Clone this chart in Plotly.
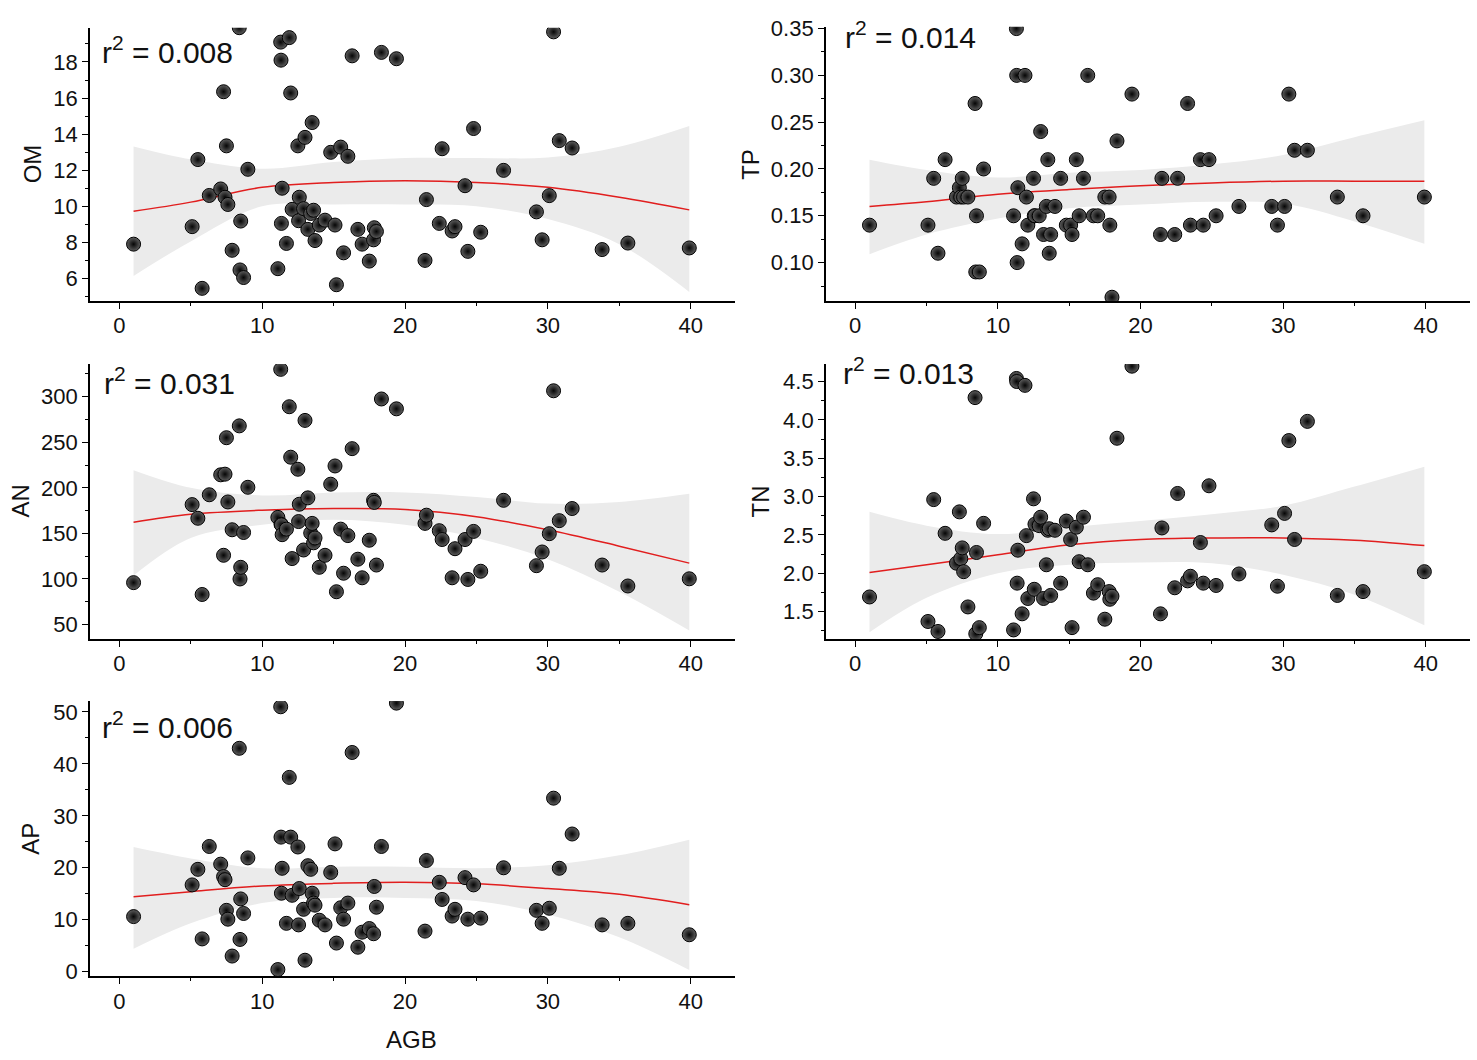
import plotly.graph_objects as go

# AGB values shared by all five panels (one sample per entry)
agb = [1.0, 5.1, 5.5, 5.8, 6.3,
       7.1, 7.3, 7.4, 7.5, 7.6, 7.9,
       8.4, 8.45, 8.5, 8.7, 9.0,
       11.1, 11.3, 11.32, 11.35, 11.4, 11.7, 11.9,
       12.0, 12.1, 12.5, 12.55, 12.6, 12.9,
       13.0, 13.2, 13.4, 13.5, 13.6, 13.7,
       14.0, 14.4, 14.8, 15.1, 15.2, 15.5, 15.7, 16.0, 16.3,
       16.7, 17.0, 17.5, 17.8, 17.85, 18.0, 18.35, 19.4,
       21.4, 21.5, 22.4, 22.6, 23.3, 23.5, 24.2, 24.4, 24.8, 25.3,
       26.9, 29.2, 29.6, 30.1, 30.4, 30.8, 31.7, 33.8, 35.6, 39.9]

om = [7.9, 8.87, 12.59, 5.45, 10.6,
      10.96, 16.35, 10.5, 13.35, 10.1, 7.56,
      19.9, 6.47, 9.18, 6.05, 12.05,
      6.54, 19.1, 18.1, 9.05, 11.0, 7.94, 19.35,
      16.28, 9.83, 13.35, 9.2, 10.5, 9.87,
      13.82, 8.72, 9.6, 14.64, 9.78, 8.1,
      8.96, 9.23, 12.99, 8.96, 5.65, 13.28, 7.42, 12.77, 18.34,
      8.72, 7.9, 6.96, 8.14, 8.81, 8.6, 18.53, 18.18,
      7.0, 10.37, 9.05, 13.19, 8.63, 8.87, 11.14, 7.5, 14.31, 8.56,
      11.99, 9.69, 8.14, 10.59, 19.67, 13.64, 13.23, 7.6, 7.96, 7.69]

tp = [0.14, 0.14, 0.19, 0.11, 0.21,
      0.17, 0.18, 0.17, 0.19, 0.17, 0.17,
      0.27, 0.09, 0.15, 0.09, 0.20,
      0.15, 0.35, 0.30, 0.10, 0.18, 0.12, 0.30,
      0.17, 0.14, 0.19, 0.15, 0.15, 0.15,
      0.24, 0.13, 0.16, 0.21, 0.11, 0.13,
      0.16, 0.19, 0.14, 0.14, 0.13, 0.21, 0.15, 0.19, 0.30,
      0.15, 0.15, 0.17, 0.17, 0.14, 0.063, 0.23, 0.28,
      0.13, 0.19, 0.13, 0.19, 0.27, 0.14, 0.21, 0.14, 0.21, 0.15,
      0.16, 0.16, 0.14, 0.16, 0.28, 0.22, 0.22, 0.17, 0.15, 0.17]

an = [96, 181.6, 166.6, 83, 192.4,
      214.3, 126, 215, 255, 184.5, 154,
      268, 100, 112.8, 151, 200.6,
      167.6, 330, 160, 159.4, 148.6, 154.7, 289,
      233.6, 122.4, 220.4, 163, 182, 131.8,
      274, 189, 150.4, 161, 139.7, 145,
      112.8, 126, 204, 224, 86, 154.7, 106.3, 147.6, 243,
      121.7, 101.3, 142.5, 186.3, 184, 115.3, 297.5, 286.7,
      161, 170, 153, 143.3, 101.3, 133.2, 143.3, 99.5, 152.2, 108.5,
      186.3, 114.6, 129.6, 149.7, 306.5, 164, 177.3, 115.3, 92.3, 100.2]

tn = [1.69, 1.37, 2.96, 1.24, 2.52,
      2.13, 2.80, 2.19, 2.33, 2.02, 1.56,
      4.29, 1.21, 2.27, 1.29, 2.65,
      1.26, 4.54, 4.50, 1.87, 2.30, 1.47, 4.45,
      2.49, 1.67, 2.97, 1.79, 2.64, 2.62,
      2.73, 1.67, 2.11, 2.56, 2.58, 1.71,
      2.56, 1.87, 2.68, 2.44, 1.29, 2.60, 2.15, 2.73, 2.11,
      1.74, 1.85, 1.40, 1.76, 1.66, 1.70, 3.76, 4.70,
      1.47, 2.59, 1.81, 3.04, 1.90, 1.96, 2.40, 1.87, 3.14, 1.84,
      1.99, 2.63, 1.83, 2.78, 3.73, 2.44, 3.98, 1.71, 1.76, 2.02]

ap = [10.6, 16.7, 19.7, 6.3, 24.1,
      20.7, 18.3, 17.7, 11.8, 10.1, 3.0,
      43.0, 6.2, 14.0, 11.2, 21.9,
      0.4, 51.0, 25.9, 15.1, 19.9, 9.3, 37.4,
      25.9, 14.7, 24.0, 9.0, 16.0, 12.0,
      2.2, 20.4, 19.7, 15.1, 13.2, 12.8,
      9.9, 9.0, 19.1, 24.6, 5.5, 12.3, 10.1, 13.2, 42.2,
      4.7, 7.6, 8.3, 7.3, 16.4, 12.4, 24.1, 51.7,
      7.8, 21.4, 17.2, 13.9, 10.7, 12.0, 18.1, 10.1, 16.7, 10.3,
      20.0, 11.8, 9.3, 12.2, 33.4, 19.9, 26.5, 9.0, 9.3, 7.1]

# quadratic fit and its confidence band
fit_x = [1.0, 5, 10, 15, 20, 25, 30, 35, 39.9]

om_fit = [9.72, 10.23, 11.05, 11.32, 11.41, 11.32, 11.05, 10.5, 9.8]
om_lo = [6.14, 8.05, 10.0, 10.1, 10.1, 10.0, 9.3, 7.9, 5.25]
om_hi = [13.32, 12.6, 12.08, 12.45, 12.68, 12.68, 12.7, 13.3, 14.45]

tp_fit = [0.160, 0.165, 0.173, 0.178, 0.182, 0.185, 0.187, 0.187, 0.187]
tp_lo = [0.109, 0.130, 0.147, 0.158, 0.162, 0.165, 0.163, 0.144, 0.120]
tp_hi = [0.210, 0.199, 0.191, 0.196, 0.199, 0.205, 0.215, 0.234, 0.252]

an_fit = [162.3, 171, 175.5, 177.3, 176.3, 168.4, 154, 136, 117.4]
an_lo = [103.8, 145, 159.4, 165, 159.4, 145, 121.7, 86, 43.5]
an_hi = [219.3, 200, 191.7, 195, 195, 190, 182.7, 184.5, 193.5]

tn_fit = [2.01, 2.11, 2.24, 2.37, 2.44, 2.46, 2.46, 2.43, 2.36]
tn_lo = [1.23, 1.68, 2.0, 2.11, 2.14, 2.13, 1.98, 1.72, 1.32]
tn_hi = [2.80, 2.62, 2.51, 2.60, 2.68, 2.77, 2.88, 3.13, 3.39]

ap_fit = [14.4, 15.4, 16.5, 17.0, 17.2, 16.9, 16.0, 14.9, 12.9]
ap_lo = [4.4, 9.3, 13.2, 14.2, 14.2, 13.6, 11.0, 6.6, 0.3]
ap_hi = [24.0, 21.8, 19.9, 20.2, 20.2, 19.9, 20.5, 22.4, 25.4]

r2_text = ['0.008', '0.014', '0.031', '0.013', '0.006']

W, H = 1477, 1060
FONT = 'Liberation Sans, Arial, sans-serif'

# name, values, fit, lo, hi, x domain px, y domain px (top, bottom), y range, dtick, minor,
# tick format, title x px, r2 label (left, centre) px
panels = [
    ('OM', om, om_fit, om_lo, om_hi, (90, 735), (18, 296), (4.75, 19.9), 2, 1, '', 32, (100, 41)),
    ('TP', tp, tp_fit, tp_lo, tp_hi, (826, 1470), (17, 296), (0.059, 0.352), 0.05, 0.025, '.2f', 751, (843, 25)),
    ('AN', an, an_fit, an_lo, an_hi, (90, 735), (360, 640), (34, 336), 50, 25, '', 21, (102, 377)),
    ('TN', tn, tn_fit, tn_lo, tn_hi, (826, 1470), (360, 640), (1.14, 4.73), 0.5, 0.25, '.1f', 761, (841, 367)),
    ('AP', ap, ap_fit, ap_lo, ap_hi, (90, 735), (703, 983), (-0.9, 52.1), 10, 5, '', 31, (100, 727)),
]

fig = go.Figure()
annotations = []

for i, (name, vals, fit, lo, hi, xd, yd, yr, dt, mdt, fmt, tx, rp) in enumerate(panels):
    n = '' if i == 0 else str(i + 1)
    xa, ya = 'x' + n, 'y' + n

    fig.add_trace(go.Scatter(x=fit_x, y=lo, xaxis=xa, yaxis=ya, mode='lines',
                             line=dict(width=0, shape='spline'), hoverinfo='skip',
                             showlegend=False))
    fig.add_trace(go.Scatter(x=fit_x, y=hi, xaxis=xa, yaxis=ya, mode='lines',
                             line=dict(width=0, shape='spline'), fill='tonexty',
                             fillcolor='rgb(235,235,235)', hoverinfo='skip',
                             showlegend=False))
    fig.add_trace(go.Scatter(x=fit_x, y=fit, xaxis=xa, yaxis=ya, mode='lines',
                             line=dict(color='rgb(225,30,30)', width=1.5, shape='spline'),
                             showlegend=False))
    fig.add_trace(go.Scatter(x=agb, y=vals, xaxis=xa, yaxis=ya, mode='markers',
                             marker=dict(size=14, color='rgb(95,95,95)',
                                         gradient=dict(type='radial', color='rgb(5,5,5)'),
                                         line=dict(color='black', width=1)),
                             showlegend=False))

    axis_common = dict(showline=True, linecolor='black', linewidth=1.8,
                       ticks='outside', ticklen=6, tickwidth=1.2, tickcolor='black',
                       showgrid=False, zeroline=False,
                       tickfont=dict(family=FONT, size=22, color='#111'))
    fig.layout['xaxis' + n] = dict(
        domain=[xd[0] / W, xd[1] / W], anchor=ya, range=[-2.05, 43.1],
        tick0=0, dtick=10, ticklabelstandoff=-2,
        minor=dict(ticks='outside', ticklen=3, dtick=5, tickcolor='black'),
        **axis_common)
    fig.layout['yaxis' + n] = dict(
        domain=[1 - yd[1] / H, 1 - yd[0] / H], anchor=xa, range=list(yr),
        tick0=0, dtick=dt, tickformat=fmt,
        minor=dict(ticks='outside', ticklen=3, dtick=mdt, tickcolor='black'),
        **axis_common)

    # y axis title
    annotations.append(dict(x=tx / W, y=1 - (yd[0] + yd[1]) / 2 / H, xref='paper', yref='paper',
                            text=name, textangle=-90, showarrow=False,
                            xanchor='center', yanchor='middle',
                            font=dict(family=FONT, size=24, color='#111')))
    # r squared label
    annotations.append(dict(x=rp[0] / W, y=1 - rp[1] / H, xref='paper', yref='paper',
                            text='r<sup>2</sup> = ' + r2_text[i], showarrow=False,
                            xanchor='left', yanchor='middle',
                            font=dict(family=FONT, size=30, color='#111')))

annotations.append(dict(x=411 / W, y=1 - 1047 / H, xref='paper', yref='paper', text='AGB',
                        showarrow=False, xanchor='center', yanchor='middle',
                        font=dict(family=FONT, size=24, color='#111')))

fig.update_layout(width=W, height=H, margin=dict(l=0, r=0, t=0, b=0),
                  plot_bgcolor='white', paper_bgcolor='white',
                  annotations=annotations)

fig.write_html('out.html', config={'displayModeBar': False},
               post_script="document.body.style.margin='0px';document.body.style.overflow='hidden';")
